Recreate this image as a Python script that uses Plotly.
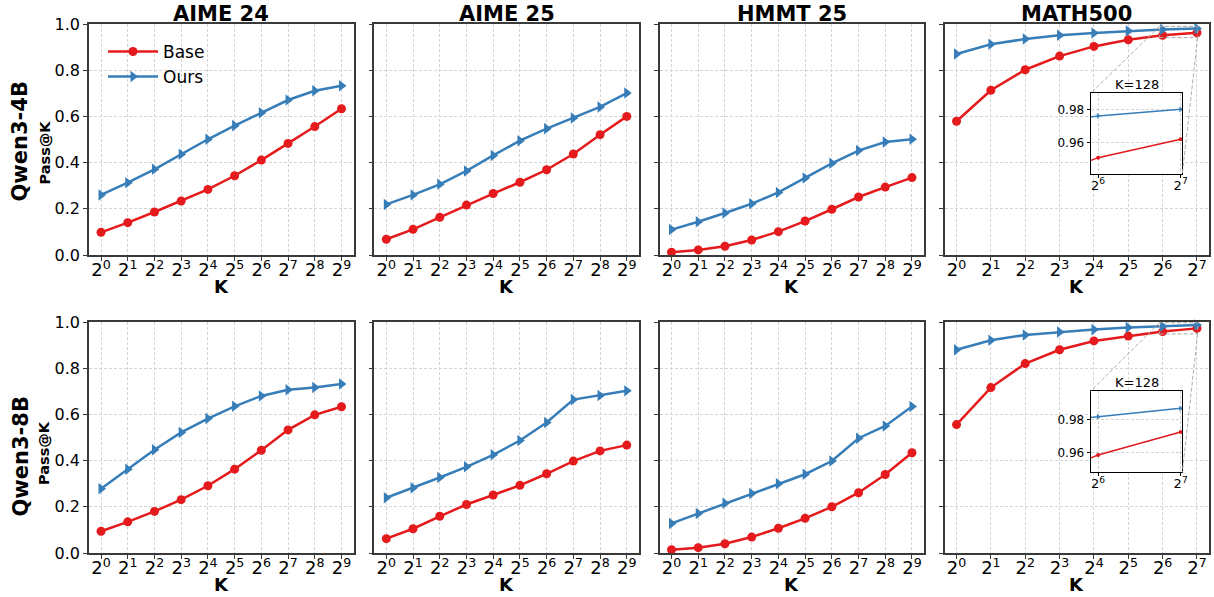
import plotly.graph_objects as go

# ---------------- data ----------------
datasets = ["AIME 24", "AIME 25", "HMMT 25", "MATH500"]
models = ["Qwen3-4B", "Qwen3-8B"]
k_exp_10 = list(range(10))          # K = 2^0 ... 2^9
k_exp_8 = list(range(8))            # K = 2^0 ... 2^7

base_4b_aime24 = [0.098, 0.140, 0.186, 0.234, 0.284, 0.343, 0.411, 0.483, 0.556, 0.633]
ours_4b_aime24 = [0.260, 0.313, 0.371, 0.436, 0.501, 0.560, 0.616, 0.671, 0.711, 0.733]
base_4b_aime25 = [0.068, 0.111, 0.163, 0.216, 0.266, 0.315, 0.369, 0.437, 0.521, 0.600]
ours_4b_aime25 = [0.219, 0.260, 0.306, 0.364, 0.431, 0.495, 0.547, 0.593, 0.641, 0.701]
base_4b_hmmt25 = [0.012, 0.022, 0.038, 0.065, 0.101, 0.147, 0.198, 0.251, 0.294, 0.335]
ours_4b_hmmt25 = [0.110, 0.144, 0.182, 0.222, 0.271, 0.333, 0.397, 0.452, 0.489, 0.501]
base_4b_math500 = [0.579, 0.713, 0.802, 0.861, 0.903, 0.932, 0.951, 0.962]
ours_4b_math500 = [0.870, 0.912, 0.935, 0.951, 0.961, 0.970, 0.976, 0.980]

base_8b_aime24 = [0.094, 0.135, 0.180, 0.231, 0.291, 0.363, 0.445, 0.533, 0.598, 0.633]
ours_8b_aime24 = [0.278, 0.363, 0.447, 0.522, 0.582, 0.635, 0.680, 0.707, 0.716, 0.732]
base_8b_aime25 = [0.062, 0.105, 0.159, 0.210, 0.251, 0.293, 0.343, 0.398, 0.442, 0.467]
ours_8b_aime25 = [0.239, 0.282, 0.327, 0.373, 0.425, 0.487, 0.565, 0.664, 0.682, 0.702]
base_8b_hmmt25 = [0.014, 0.023, 0.040, 0.069, 0.107, 0.150, 0.200, 0.261, 0.340, 0.434]
ours_8b_hmmt25 = [0.128, 0.171, 0.215, 0.258, 0.300, 0.341, 0.398, 0.497, 0.550, 0.634]
base_8b_math500 = [0.556, 0.716, 0.820, 0.880, 0.918, 0.939, 0.9586, 0.9724]
ours_8b_math500 = [0.880, 0.921, 0.944, 0.957, 0.967, 0.976, 0.9816, 0.9866]

y_ticks = [0.0, 0.2, 0.4, 0.6, 0.8, 1.0]
inset_title = "K=128"
inset_x_range = [5.91, 7.02]
inset_y_range_4b = [0.9412, 0.9896]
inset_y_range_8b = [0.9482, 0.9970]
inset_y_ticks = [0.96, 0.98]

grid_base = [[base_4b_aime24, base_4b_aime25, base_4b_hmmt25, base_4b_math500],
             [base_8b_aime24, base_8b_aime25, base_8b_hmmt25, base_8b_math500]]
grid_ours = [[ours_4b_aime24, ours_4b_aime25, ours_4b_hmmt25, ours_4b_math500],
             [ours_8b_aime24, ours_8b_aime25, ours_8b_hmmt25, ours_8b_math500]]
inset_y_ranges = [inset_y_range_4b, inset_y_range_8b]

# ---------------- style / layout ----------------
W, H = 1214, 597
RED = "#e41a1c"
BLUE = "#377eb8"
FONT = "DejaVu Sans"
AX_COLOR = "#3a3a3a"
GRID_COLOR = "#d4d4d4"

def px(x):
    return x / W

def py(y):
    return 1 - y / H

col_left = [89, 374.3, 659.5, 944.5]
col_w = 264.5
row_top = [24, 322]
row_h = 231
inset_left, inset_right = 1090.7, 1182.3
inset_top = [93.3, 391.0]
inset_bot = [174.0, 472.3]
model_label_y = [141.5, 456.5]
passk_label_y = [152.5, 453.0]

# axis ids: MATH500 panels first, insets 8 and 9
panel_id = {(0, 3): 1, (1, 3): 2, (0, 0): 3, (0, 1): 4, (0, 2): 5,
            (1, 0): 6, (1, 1): 7, (1, 2): 10}
inset_id = {0: 8, 1: 9}

def axname(i):
    return "" if i == 1 else str(i)

fig = go.Figure()
layout = dict(width=W, height=H,
              margin=dict(l=0, r=0, t=0, b=0, pad=0, autoexpand=False),
              paper_bgcolor="white", plot_bgcolor="white",
              font=dict(family=FONT, color="black"),
              showlegend=True)
annotations = []
shapes = []

def sup_labels(n):
    return ["2<sup>%d</sup>" % i for i in range(n)]

for r in range(2):
    for c in range(4):
        i = panel_id[(r, c)]
        an = axname(i)
        base = grid_base[r][c]
        ours = grid_ours[r][c]
        n = len(base)
        xs = k_exp_10 if n == 10 else k_exp_8
        first = (r == 0 and c == 0)
        fig.add_trace(go.Scatter(
            x=xs, y=base, mode="lines+markers", name="Base",
            line=dict(color=RED, width=2.5),
            marker=dict(symbol="circle", size=9, color=RED),
            xaxis="x" + an, yaxis="y" + an,
            showlegend=first, legend="legend", cliponaxis=False))
        fig.add_trace(go.Scatter(
            x=xs, y=ours, mode="lines+markers", name="Ours",
            line=dict(color=BLUE, width=2.5),
            marker=dict(symbol="triangle-right", size=10, color=BLUE),
            xaxis="x" + an, yaxis="y" + an,
            showlegend=first, legend="legend2", cliponaxis=False))
        pad = 0.05 * (n - 1)
        layout["xaxis" + an] = dict(
            domain=[px(col_left[c]), px(col_left[c] + col_w)],
            range=[-pad, n - 1 + pad], anchor="y" + an, automargin=False,
            tickmode="array", tickvals=xs, ticktext=sup_labels(n),
            tickfont=dict(size=18, family=FONT, color="black"),
            ticks="outside", ticklen=4, tickwidth=1.2, tickcolor=AX_COLOR,
            ticklabelstandoff=-6,
            showline=True, linecolor=AX_COLOR, linewidth=1.6, mirror=True,
            showgrid=True, gridcolor=GRID_COLOR, gridwidth=0.8, griddash="3px,2px",
            zeroline=False, fixedrange=True)
        layout["yaxis" + an] = dict(
            domain=[py(row_top[r] + row_h), py(row_top[r])],
            range=[0, 1.0], anchor="x" + an, automargin=False,
            tickmode="array", tickvals=y_ticks,
            ticktext=["%.1f" % v for v in y_ticks],
            showticklabels=(c == 0),
            tickfont=dict(size=16, family=FONT, color="black"),
            ticks="outside", ticklen=4, tickwidth=1.2, tickcolor=AX_COLOR,
            showline=True, linecolor=AX_COLOR, linewidth=1.6, mirror=True,
            showgrid=True, gridcolor=GRID_COLOR, gridwidth=0.8, griddash="3px,2px",
            zeroline=False, fixedrange=True)
        # x label
        annotations.append(dict(
            text="<b>K</b>", x=px(col_left[c] + col_w / 2), y=py(row_top[r] + row_h + 31.5),
            xref="paper", yref="paper", showarrow=False,
            xanchor="center", yanchor="middle",
            font=dict(size=18, family=FONT, color="black")))
        if r == 0:
            annotations.append(dict(
                text="<b>%s</b>" % datasets[c], x=px(col_left[c] + col_w / 2), y=py(14.5),
                xref="paper", yref="paper", showarrow=False,
                xanchor="center", yanchor="middle",
                font=dict(size=21, family=FONT, color="black")))

    # row labels
    annotations.append(dict(
        text="<b>%s</b>" % models[r], x=px(20), y=py(model_label_y[r]),
        xref="paper", yref="paper", showarrow=False, textangle=-90,
        xanchor="center", yanchor="middle",
        font=dict(size=21, family=FONT, color="black")))
    annotations.append(dict(
        text="<b>Pass@K</b>", x=px(44), y=py(passk_label_y[r]),
        xref="paper", yref="paper", showarrow=False, textangle=-90,
        xanchor="center", yanchor="middle",
        font=dict(size=14.5, family=FONT, color="black")))

    # inset
    ii = inset_id[r]
    ian = axname(ii)
    mi = panel_id[(r, 3)]
    man = axname(mi)
    base = grid_base[r][3]
    ours = grid_ours[r][3]
    fig.add_trace(go.Scatter(
        x=k_exp_8, y=base, mode="lines+markers", name="Base",
        line=dict(color=RED, width=1.5), marker=dict(symbol="circle", size=4, color=RED),
        xaxis="x" + ian, yaxis="y" + ian, showlegend=False))
    fig.add_trace(go.Scatter(
        x=k_exp_8, y=ours, mode="lines+markers", name="Ours",
        line=dict(color=BLUE, width=1.5), marker=dict(symbol="triangle-right", size=5, color=BLUE),
        xaxis="x" + ian, yaxis="y" + ian, showlegend=False))
    yr = inset_y_ranges[r]
    layout["xaxis" + ian] = dict(
        domain=[px(inset_left), px(inset_right)], range=inset_x_range, anchor="y" + ian,
        automargin=False,
        tickmode="array", tickvals=[6, 7], ticktext=["2<sup>6</sup>", "2<sup>7</sup>"],
        tickfont=dict(size=13, family=FONT, color="black"),
        ticks="outside", ticklen=3, tickwidth=1, tickcolor="black",
        ticklabelstandoff=-4,
        showline=True, linecolor="black", linewidth=1.2, mirror=True,
        showgrid=True, gridcolor=GRID_COLOR, gridwidth=0.8, griddash="3px,2px",
        zeroline=False, fixedrange=True)
    layout["yaxis" + ian] = dict(
        domain=[py(inset_bot[r]), py(inset_top[r])], range=yr, anchor="x" + ian,
        automargin=False,
        tickmode="array", tickvals=inset_y_ticks, ticktext=["%.2f" % v for v in inset_y_ticks],
        tickfont=dict(size=12, family=FONT, color="black"),
        ticks="outside", ticklen=3, tickwidth=1, tickcolor="black",
        showline=True, linecolor="black", linewidth=1.2, mirror=True,
        showgrid=True, gridcolor=GRID_COLOR, gridwidth=0.8, griddash="3px,2px",
        zeroline=False, fixedrange=True)
    annotations.append(dict(
        text=inset_title, x=px((inset_left + inset_right) / 2), y=py(inset_top[r] - 8.5),
        xref="paper", yref="paper", showarrow=False, xanchor="center", yanchor="middle",
        font=dict(size=13, family=FONT, color="black")))

    # dashed zoom rectangle on main axes
    shapes.append(dict(type="rect", xref="x" + man, yref="y" + man,
                       x0=inset_x_range[0], x1=inset_x_range[1], y0=yr[0], y1=yr[1],
                       line=dict(color="#a8a8a8", width=1, dash="4px,2px"), layer="above"))
    # connectors (convert main data coords -> paper)
    mrange_x = layout["xaxis" + man]["range"]
    mdom_x = layout["xaxis" + man]["domain"]
    mdom_y = layout["yaxis" + man]["domain"]

    def to_paper_x(v):
        return mdom_x[0] + (v - mrange_x[0]) / (mrange_x[1] - mrange_x[0]) * (mdom_x[1] - mdom_x[0])

    def to_paper_y(v):
        return mdom_y[0] + (v - 0.0) / 1.0 * (mdom_y[1] - mdom_y[0])

    shapes.append(dict(type="line", xref="paper", yref="paper",
                       x0=to_paper_x(inset_x_range[0]), y0=to_paper_y(yr[1]),
                       x1=px(inset_left), y1=py(inset_top[r]),
                       line=dict(color="#b0b0b0", width=1, dash="4px,2px"), layer="above"))
    shapes.append(dict(type="line", xref="paper", yref="paper",
                       x0=to_paper_x(inset_x_range[1]), y0=to_paper_y(yr[0]),
                       x1=px(inset_right), y1=py(inset_bot[r]),
                       line=dict(color="#b0b0b0", width=1, dash="4px,2px"), layer="above"))

legend_common = dict(xanchor="left", yanchor="middle", bgcolor="rgba(0,0,0,0)",
                     borderwidth=0, font=dict(size=17, family=FONT, color="black"),
                     itemwidth=50)
layout["legend"] = dict(x=px(103), y=py(52), **legend_common)
layout["legend2"] = dict(x=px(103), y=py(77), **legend_common)
layout["annotations"] = annotations
layout["shapes"] = shapes
fig.update_layout(**layout)

fig.write_html("out.html")
